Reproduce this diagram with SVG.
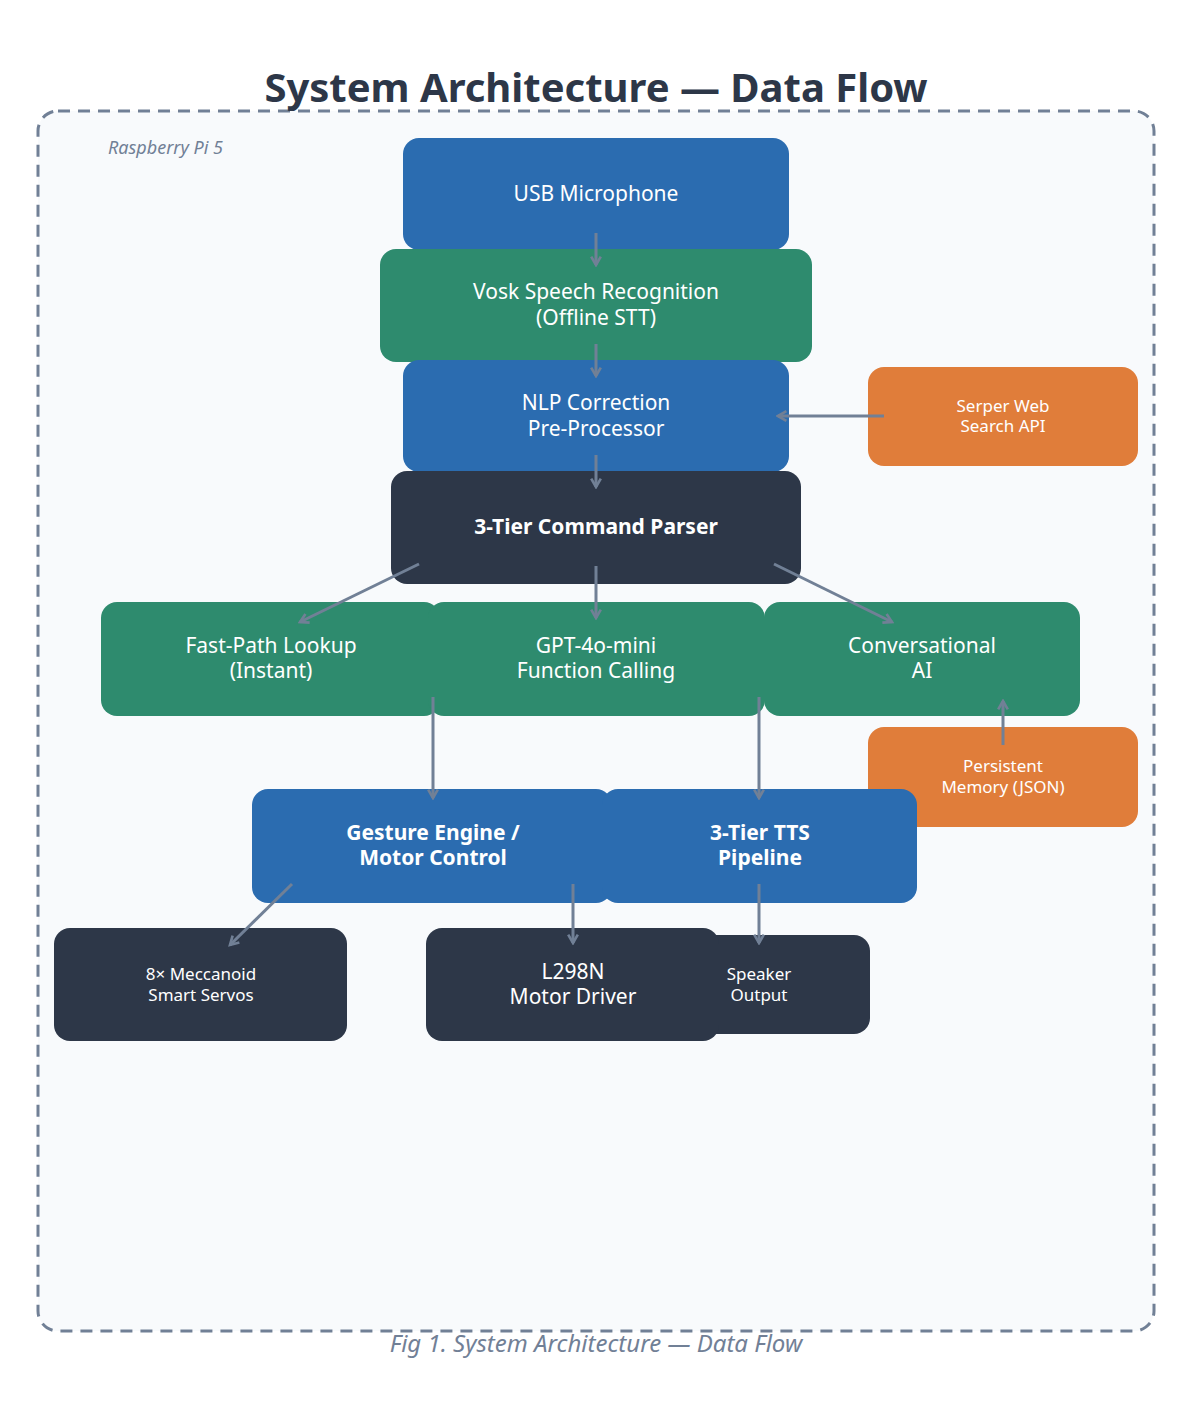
<svg xmlns="http://www.w3.org/2000/svg" width="1192" height="1416" viewBox="0 0 1192 1416">
<style>
text{font-family:"Noto Sans","Open Sans",sans-serif;fill:#fff;text-anchor:middle}
.b{fill:#2B6CB0}.g{fill:#2E8B6E}.d{fill:#2D3748}.o{fill:#E07D3A}
.t{font-size:21px}.s{font-size:17px}.k{font-size:21px;font-weight:bold}
.c line{stroke:#718096;stroke-width:3;marker-end:url(#a)}
</style>
<defs><marker id="a" viewBox="0 0 10 10" refX="8" refY="5" markerWidth="4" markerHeight="4" orient="auto"><path d="M1,1 L8,5 L1,9" fill="none" stroke="#718096" stroke-width="2.2"/></marker></defs>
<rect width="1192" height="1416" fill="#fff"/>
<rect x="38" y="111" width="1116" height="1220" rx="20" fill="#F8FAFC" stroke="#718096" stroke-width="3" stroke-dasharray="12,8"/>
<text x="596" y="102" style="font-size:40px;font-weight:bold;fill:#2D3748">System Architecture — Data Flow</text>
<text x="108" y="154" style="font-size:18px;font-style:italic;fill:#718096;text-anchor:start">Raspberry Pi 5</text>
<g id="mic"><rect class="b" x="403" y="138" width="386" height="112" rx="16"/><text class="t" x="596" y="201">USB Microphone</text></g>
<g id="vosk"><rect class="g" x="380" y="249" width="432" height="113" rx="16"/><text class="t" x="596" y="299">Vosk Speech Recognition</text><text class="t" x="596" y="325">(Offline STT)</text></g>
<g id="nlp"><rect class="b" x="403" y="360" width="386" height="112" rx="16"/><text class="t" x="596" y="410">NLP Correction</text><text class="t" x="596" y="436">Pre-Processor</text></g>
<g id="serper"><rect class="o" x="868" y="367" width="270" height="99" rx="16"/><text class="s" x="1003" y="412">Serper Web</text><text class="s" x="1003" y="432">Search API</text></g>
<g id="parser"><rect class="d" x="391" y="471" width="410" height="113" rx="16"/><text class="k" x="596" y="534">3-Tier Command Parser</text></g>
<g id="fast"><rect class="g" x="101" y="602" width="339" height="114" rx="16"/><text class="t" x="271" y="653">Fast-Path Lookup</text><text class="t" x="271" y="678">(Instant)</text></g>
<g id="gpt"><rect class="g" x="428" y="602" width="337" height="114" rx="16"/><text class="t" x="596" y="653">GPT-4o-mini</text><text class="t" x="596" y="678">Function Calling</text></g>
<g id="conv"><rect class="g" x="764" y="602" width="316" height="114" rx="16"/><text class="t" x="922" y="653">Conversational</text><text class="t" x="922" y="678">AI</text></g>
<g id="memory"><rect class="o" x="868" y="727" width="270" height="100" rx="16"/><text class="s" x="1003" y="772">Persistent</text><text class="s" x="1003" y="793">Memory (JSON)</text></g>
<g id="gesture"><rect class="b" x="252" y="789" width="360" height="114" rx="16"/><text class="k" x="433" y="840">Gesture Engine /</text><text class="k" x="433" y="865">Motor Control</text></g>
<g id="tts"><rect class="b" x="602" y="789" width="315" height="114" rx="16"/><text class="k" x="760" y="840">3-Tier TTS</text><text class="k" x="760" y="865">Pipeline</text></g>
<g id="servos"><rect class="d" x="54" y="928" width="293" height="113" rx="16"/><text class="s" x="201" y="980">8× Meccanoid</text><text class="s" x="201" y="1001">Smart Servos</text></g>
<g id="speaker"><rect class="d" x="690" y="935" width="180" height="99" rx="16"/><text class="s" x="759" y="980">Speaker</text><text class="s" x="759" y="1001">Output</text></g>
<g id="l298n"><rect class="d" x="426" y="928" width="293" height="113" rx="16"/><text class="t" x="573" y="979">L298N</text><text class="t" x="573" y="1004">Motor Driver</text></g>
<g id="connectors" class="c">
<line x1="596" y1="233" x2="596" y2="265"/>
<line x1="596" y1="344" x2="596" y2="376"/>
<line x1="596" y1="455" x2="596" y2="487"/>
<line x1="419" y1="564" x2="300" y2="622"/>
<line x1="596" y1="566" x2="596" y2="618"/>
<line x1="774" y1="564" x2="892" y2="622"/>
<line x1="884" y1="416" x2="778" y2="416"/>
<line x1="433" y1="697" x2="433" y2="798"/>
<line x1="759" y1="697" x2="759" y2="798"/>
<line x1="1003" y1="745" x2="1003" y2="701"/>
<line x1="292" y1="884" x2="230" y2="945"/>
<line x1="573" y1="884" x2="573" y2="943"/>
<line x1="759" y1="884" x2="759" y2="943"/>
</g>
<text x="596" y="1352" style="font-size:24px;font-style:italic;fill:#718096">Fig 1. System Architecture — Data Flow</text>
</svg>
